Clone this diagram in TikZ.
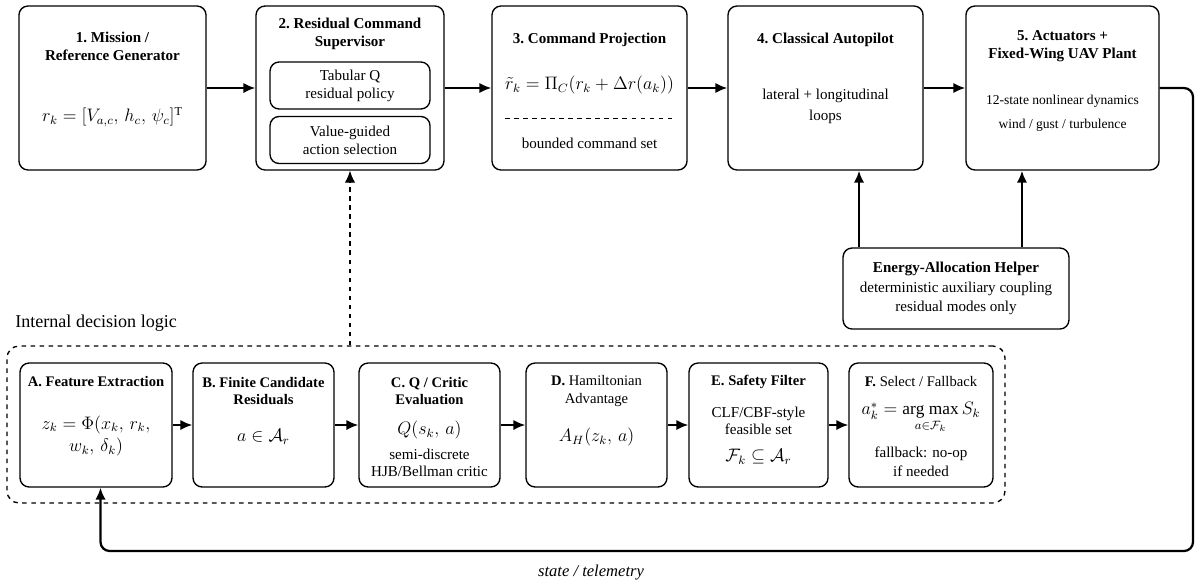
\documentclass[tikz,border=0pt]{standalone}
\usepackage{amsmath}
\usepackage{fontspec}
\setmainfont{Liberation Serif}
\usetikzlibrary{arrows.meta, positioning, calc}

\tikzset{
  blk/.style={draw, line width=0.9pt, rounded corners=6pt, fill=white},
  sub/.style={blk, align=center, minimum width=106.2pt, minimum height=31.2pt, inner sep=1pt},
  topbox/.style={blk, minimum height=108.9pt},
  lowbox/.style={blk, minimum height=82.3pt},
  ttl/.style={font=\bfseries, align=center},
  ttlsm/.style={font=\fontsize{9.7}{11.5}\selectfont\bfseries, align=center},
  txt/.style={align=center},
  mth/.style={font=\fontsize{11.5}{15}\selectfont, align=center},
  flow/.style={line width=1.5pt, -{Latex[length=8pt,width=7pt]}},
}

\begin{document}
\begin{tikzpicture}[x=0.664pt, y=-0.664pt]
  \useasboundingbox (0,0) rectangle (1197,583);

  % main loop
  \node[topbox, minimum width=124.2pt] (mis) at (112.5,88) {};
  \node[ttl] (mist) at (112.5,46) {1.\ Mission /\\Reference Generator};
  \node[mth] (misf) at (112.5,117) {$r_k = [V_{a,c},\, h_c,\, \psi_c]^{\mathrm{T}}$};

  \node[topbox, minimum width=124.8pt] (sup) at (350,88) {};
  \node[ttl] (supt) at (350,34) {2.\ Residual Command\\Supervisor};
  \node[sub] (tab) at (350,85.5) {Tabular Q\\residual policy};
  \node[sub] (val) at (350,140) {Value-guided\\action selection};

  \node[topbox, minimum width=129.5pt] (prj) at (589.5,88) {};
  \node[ttl] (prjt) at (589.5,40) {3.\ Command Projection};
  \node[mth] (prjf) at (589.5,85) {$\tilde{r}_k = \Pi_C(r_k + \Delta r(a_k))$};
  \draw[dashed, line width=0.6pt] (505,118) -- (672,118);
  \node[txt] (prjb) at (589.5,143) {bounded command set};

  \node[topbox, minimum width=129.5pt] (ap) at (825.5,88) {};
  \node[ttl] (apt) at (825.5,40) {4.\ Classical Autopilot};
  \node[txt] (apb) at (825.5,106) {lateral + longitudinal\\[2pt]loops};

  \node[topbox, minimum width=128.2pt] (pl) at (1062.5,88) {};
  \node[ttl] (plt) at (1062.5,46) {5.\ Actuators +\\Fixed-Wing UAV Plant};
  \node[txt, font=\small] (plb) at (1062.5,113) {12-state nonlinear dynamics\\[5pt]wind / gust / turbulence};

  \node[blk, align=center, minimum width=150pt, minimum height=53.8pt] (eah) at (956,288.5)
    {\textbf{Energy-Allocation Helper}\\[1pt]deterministic auxiliary coupling\\[1pt]residual modes only};

  \draw[flow] (mis) -- (sup);
  \draw[flow] (sup) -- (prj);
  \draw[flow] (prj) -- (ap);
  \draw[flow] (ap) -- (pl);
  \draw[flow] ([xshift=-64.4pt]eah.north) -- ([xshift=-64.4pt]eah.north |- ap.south);
  \draw[flow] ([xshift=43.8pt]eah.north) -- ([xshift=43.8pt]eah.north |- pl.south);

  % internal decision logic
  \node[draw, dashed, line width=0.9pt, rounded corners=8pt, minimum width=662.7pt, minimum height=104.2pt] (logic) at (506,424.5) {};
  \node[anchor=west, inner sep=0pt, font=\large] (logict) at (15,323) {Internal decision logic};

  \node[lowbox, minimum width=100.9pt] (fa) at (96,425) {};
  \node[ttlsm] (fat) at (96,382) {A.\ Feature Extraction};
  \node[mth] (faf) at (96,436) {$z_k = \Phi(x_k,\, r_k,$\\$w_k,\, \delta_k)$};

  \node[lowbox, minimum width=93.6pt] (fb) at (263.5,425) {};
  \node[ttlsm] (fbt) at (263.5,391) {B.\ Finite Candidate\\Residuals};
  \node[mth] (fbf) at (263.5,437) {$a \in \mathcal{A}_r$};

  \node[lowbox, minimum width=93.6pt] (fc) at (429.5,425) {};
  \node[ttlsm] (fct) at (429.5,391) {C.\ Q / Critic\\Evaluation};
  \node[mth] (fcf) at (429.5,430) {$Q(s_k,\, a)$};
  \node[txt, font=\fontsize{10}{11.5}\selectfont] (fcb) at (429.5,463) {semi-discrete\\HJB/Bellman critic};

  \node[lowbox, minimum width=93.6pt] (fd) at (596.5,425) {};
  \node[ttlsm] (fdt) at (596.5,391) {D.\ \textmd{Hamiltonian}\\\textmd{Advantage}};
  \node[mth] (fdf) at (596.5,437) {$A_H(z_k,\, a)$};

  \node[lowbox, minimum width=92.3pt] (fe) at (758.5,425) {};
  \node[ttlsm] (fet) at (758.5,382) {E.\ Safety Filter};
  \node[txt, font=\fontsize{10}{11.5}\selectfont] (feb) at (758.5,421) {CLF/CBF-style\\feasible set};
  \node[mth] (fef) at (758.5,457) {$\mathcal{F}_k \subseteq \mathcal{A}_r$};

  \node[lowbox, minimum width=95.6pt] (ff) at (921,425) {};
  \node[ttlsm] (fft) at (921,382) {F.\ \textmd{Select / Fallback}};
  \node[mth] (fff) at (921,418) {$a_k^* = \mathop{\mathrm{arg\ max}}\limits_{a \in \mathcal{F}_k} S_k$};
  \node[txt, font=\fontsize{10}{12.5}\selectfont] (ffb) at (921,462) {fallback: no-op\\if needed};

  \draw[flow] (fa) -- (fb);
  \draw[flow] (fb) -- (fc);
  \draw[flow] (fc) -- (fd);
  \draw[flow] (fd) -- (fe);
  \draw[flow] (fe) -- (ff);
  \draw[flow, dashed, line width=0.9pt] (logic.north -| sup.south) -- (sup.south);

  % feedback
  \coordinate (fbc) at (1193,551);
  \draw[flow, rounded corners=6pt] (pl.east) -| (fbc) -| ([xshift=3pt]fa.south);
  \node[font=\fontsize{11}{13}\selectfont\itshape] (fbl) at (591,573) {state / telemetry};
\end{tikzpicture}
\end{document}
